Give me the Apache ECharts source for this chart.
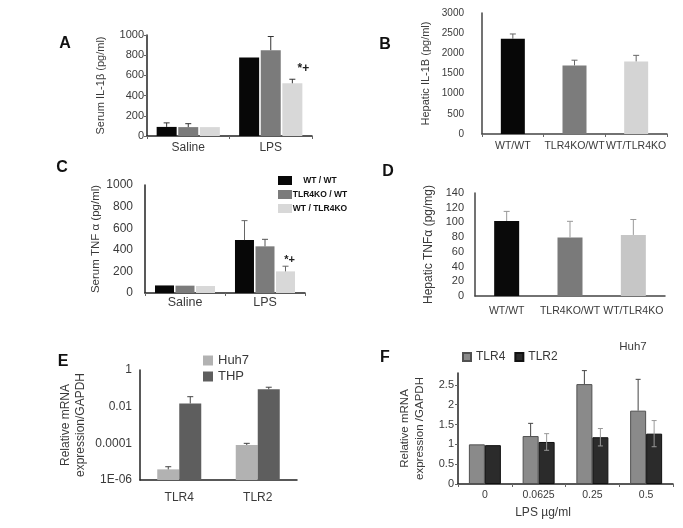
<!DOCTYPE html>
<html><head><meta charset="utf-8">
<script src="https://cdn.jsdelivr.net/npm/echarts/dist/echarts.min.js"></script>
<style>html,body{margin:0;padding:0;background:#fff}#c{width:683px;height:528px}</style>
</head><body><div id="c"></div>
<script>
// ---------- DATA ----------
// Panel A: Serum IL-1β (pg/ml)
const aCategories = ['Saline', 'LPS'];
const aWTWT = [90, 778];
const aWTWTErr = [130, 778];
const aKOWT = [88, 850];
const aKOWTErr = [122, 985];
const aWTKO = [88, 522];
const aWTKOErr = [92, 562];
const aNotes = ['', '*+'];
// Panel B: Hepatic IL-1B (pg/ml)
const bCategories = ['WT/WT', 'TLR4KO/WT', 'WT/TLR4KO'];
const bValues = [2360, 1700, 1800];
const bErr = [2480, 1830, 1950];
// Panel C: Serum TNF α (pg/ml)
const cCategories = ['Saline', 'LPS'];
const cWTWT = [70, 490];
const cWTWTErr = [70, 670];
const cKOWT = [68, 432];
const cKOWTErr = [68, 497];
const cWTKO = [65, 200];
const cWTKOErr = [65, 248];
const cNotes = ['', '*+'];
// Panel D: Hepatic TNFα (pg/mg)
const dCategories = ['WT/WT', 'TLR4KO/WT', 'WT/TLR4KO'];
const dValues = [102, 79.5, 83];
const dErr = [115, 101.5, 104];
// Panel E: Relative mRNA expression/GAPDH (log)
const eCategories = ['TLR4', 'TLR2'];
const eHuh7 = [3.8e-6, 8.1e-5];
const eHuh7Err = [5.3e-6, 1.0e-4];
const eTHP = [0.015, 0.089];
const eTHPErr = [0.035, 0.115];
const eTickLabels = ['1E-06', '0.0001', '0.01', '1'];
// Panel F: Huh7, Relative mRNA expression /GAPDH vs LPS µg/ml
const fCategories = ['0', '0.0625', '0.25', '0.5'];
const fTLR4 = [1.0, 1.21, 2.52, 1.85];
const fTLR4Err = [1.0, 1.53, 2.86, 2.64];
const fTLR2 = [0.98, 1.06, 1.18, 1.27];
const fTLR2ErrHi = [0.98, 1.27, 1.40, 1.60];
const fTLR2ErrLo = [0.98, 0.85, 0.96, 0.94];

// ---------- STYLE ----------
const FONT = '"Liberation Sans", Arial, sans-serif';
const TXT = '#3a3a3a';
const grids = [
  {left: 147, top: 35, width: 165, height: 101},  // A
  {left: 482, top: 13, width: 185, height: 121},  // B
  {left: 145, top: 185, width: 160, height: 108}, // C
  {left: 475, top: 193, width: 190, height: 103}, // D
  {left: 140, top: 370, width: 157, height: 110}, // E
  {left: 458, top: 373, width: 215, height: 111}  // F
].map(g => Object.assign({outerBoundsMode: 'none', containLabel: false}, g));

function xCat(gi, data, o) {
  return {
    type: 'category', gridIndex: gi, data: data,
    axisLine: {show: true, lineStyle: {color: o.lineColor || '#222', width: 1.5}},
    axisTick: {show: o.tick !== false, length: 3, lineStyle: {color: '#666'}},
    axisLabel: {color: TXT, fontFamily: FONT, fontSize: o.fs, margin: o.margin, interval: 0},
    splitLine: {show: false}
  };
}
function yVal(gi, o) {
  return Object.assign({
    type: 'value', gridIndex: gi, min: o.min, max: o.max, interval: o.interval,
    name: o.name, nameLocation: 'middle', nameRotate: 90, nameGap: o.nameGap,
    nameTextStyle: {color: TXT, fontFamily: FONT, fontSize: o.nameFs, lineHeight: o.lh || o.nameFs + 2},
    axisLine: {show: true, lineStyle: {color: o.lineColor || '#222', width: 1.5}},
    axisTick: {show: o.tick !== false, length: 3, lineStyle: {color: '#666'}},
    axisLabel: {color: TXT, fontFamily: FONT, fontSize: o.fs, margin: o.margin, showMaxLabel: o.showMax !== false,
      formatter: v => String(v)},
    splitLine: {show: false}
  }, o.extra || {});
}
function bar(gi, name, data, color, width, gap, extra) {
  return Object.assign({
    type: 'bar', name: name, xAxisIndex: gi, yAxisIndex: gi, data: data,
    barWidth: width, barGap: gap, itemStyle: {color: color}, silent: true
  }, extra || {});
}
function err(gi, values, his, los, offset, o) {
  const data = values.map((v, i) => [i, v, his[i], los ? los[i] : v]);
  return {
    type: 'custom', xAxisIndex: gi, yAxisIndex: gi, data: data, z: 5, silent: true,
    encode: {x: 0, y: [1, 2, 3]},
    renderItem: function (params, api) {
      const i = api.value(0);
      const top = api.coord([i, api.value(2)]);
      const bot = api.coord([i, api.value(3)]);
      const x = top[0] + offset;
      const st = {stroke: o.color, lineWidth: o.lw || 1};
      const cw = o.cap || 6;
      const ch = [];
      if (Math.abs(bot[1] - top[1]) > 0.5) {
        ch.push({type: 'line', shape: {x1: x, y1: bot[1], x2: x, y2: top[1]}, style: st});
        ch.push({type: 'line', shape: {x1: x - cw / 2, y1: top[1], x2: x + cw / 2, y2: top[1]}, style: st});
        if (los) ch.push({type: 'line', shape: {x1: x - cw / 2, y1: bot[1], x2: x + cw / 2, y2: bot[1]}, style: st});
      }
      if (o.notes && o.notes[params.dataIndex]) {
        ch.push({type: 'text', x: x + o.noteDx, y: top[1] + o.noteDy,
          style: {text: o.notes[params.dataIndex], fill: '#222', font: 'bold ' + o.noteFs + 'px ' + FONT,
            textAlign: 'center', textVerticalAlign: 'middle'}});
      }
      return {type: 'group', children: ch};
    }
  };
}
function letter(t, x, y) {
  return {type: 'text', x: x, y: y, style: {text: t, fill: '#111', font: 'bold 16px ' + FONT, textAlign: 'center', textVerticalAlign: 'middle'}};
}
function txt(t, x, y, fs) {
  return {type: 'text', x: x, y: y, style: {text: t, fill: TXT, font: fs + 'px ' + FONT, textAlign: 'center', textVerticalAlign: 'middle'}};
}

const blk = '#070707', gry = '#7b7b7b', lgt = '#d8d8d8';
const bColors = ['#070707', '#7c7c7c', '#d4d4d4'];
const dColors = ['#0a0a0a', '#7a7a7a', '#c6c6c6'];

const option = {
  animation: false,
  backgroundColor: '#fff',
  grid: grids,
  xAxis: [
    xCat(0, aCategories, {fs: 12, margin: 6}),
    xCat(1, bCategories, {fs: 10.5, margin: 7, lineColor: '#444'}),
    xCat(2, cCategories, {fs: 12.5, margin: 3}),
    xCat(3, dCategories, {fs: 10.5, margin: 10, tick: false, lineColor: '#444'}),
    xCat(4, eCategories, {fs: 12, margin: 12, tick: false}),
    xCat(5, fCategories, {fs: 10.5, margin: 6})
  ],
  yAxis: [
    yVal(0, {min: 0, max: 1000, interval: 200, name: 'Serum IL-1β (pg/ml)', nameGap: 40, nameFs: 11, fs: 11, margin: 3}),
    yVal(1, {min: 0, max: 3000, interval: 500, name: 'Hepatic IL-1B (pg/ml)', nameGap: 50, nameFs: 11, fs: 10, margin: 18, tick: false, lineColor: '#444'}),
    yVal(2, {min: 0, max: 1000, interval: 200, name: 'Serum TNF α (pg/ml)', nameGap: 42, nameFs: 11.5, fs: 12, margin: 12, tick: false}),
    yVal(3, {min: 0, max: 140, interval: 20, name: 'Hepatic TNFα (pg/mg)', nameGap: 39, nameFs: 12, fs: 11, margin: 11, tick: false, lineColor: '#444'}),
    yVal(4, {name: 'Relative mRNA\nexpression/GAPDH', nameGap: 52, nameFs: 12, lh: 15, fs: 12, margin: 8, tick: false,
      extra: {type: 'log', logBase: 10, min: 1e-6, max: 1, interval: 2, startValue: 1e-6,
        axisLabel: {color: TXT, fontFamily: FONT, fontSize: 12, margin: 8,
          formatter: v => eTickLabels[Math.round((Math.log10(v) + 6) / 2)]}}}),
    yVal(5, {min: 0, max: 2.8, interval: 0.5, name: 'Relative mRNA\nexpression /GAPDH', nameGap: 31, nameFs: 11.5, lh: 15, fs: 11, margin: 4, showMax: false})
  ],
  legend: [
    {data: ['WT / WT', 'TLR4KO / WT', 'WT / TLR4KO'], orient: 'vertical', left: 278, top: 176, padding: 0,
      itemWidth: 14, itemHeight: 9, itemGap: 5, icon: 'rect', selectedMode: false,
      formatter: '{t|{name}}',
      textStyle: {rich: {t: {width: 46, align: 'center', fontFamily: FONT, fontSize: 8.5, fontWeight: 'bold', color: '#111'}}}},
    {data: ['Huh7', 'THP'], orient: 'vertical', left: 203, top: 354, padding: 0, itemWidth: 10, itemHeight: 10, itemGap: 3,
      icon: 'rect', selectedMode: false, textStyle: {fontFamily: FONT, fontSize: 13, color: TXT}},
    {data: ['TLR4', 'TLR2'], orient: 'horizontal', left: 462, top: 351, padding: 0, itemWidth: 8, itemHeight: 8, itemGap: 9,
      icon: 'rect', selectedMode: false, textStyle: {fontFamily: FONT, fontSize: 12, color: TXT}}
  ],
  graphic: [
    letter('A', 65, 44), letter('B', 385, 45), letter('C', 62, 168),
    letter('D', 388, 172), letter('E', 63, 362), letter('F', 385, 358),
    txt('LPS µg/ml', 543, 513, 12), txt('Huh7', 633, 347, 11.5)
  ],
  series: [
    // A
    bar(0, 'WT / WT', aWTWT, blk, 20, '8%'),
    bar(0, 'TLR4KO / WT', aKOWT, gry, 20, '8%'),
    bar(0, 'WT / TLR4KO', aWTKO, lgt, 20, '8%'),
    err(0, aWTWT, aWTWTErr, null, -21.6, {color: '#333'}),
    err(0, aKOWT, aKOWTErr, null, 0, {color: '#333'}),
    err(0, aWTKO, aWTKOErr, null, 21.6, {color: '#333', notes: aNotes, noteDx: 11, noteDy: -11, noteFs: 12}),
    // B
    bar(1, 'B', bValues, null, 24, '0%', {itemStyle: {color: p => bColors[p.dataIndex]}}),
    err(1, bValues, bErr, null, 0, {color: '#666'}),
    // C
    bar(2, 'WT / WT', cWTWT, blk, 19, '8%'),
    bar(2, 'TLR4KO / WT', cKOWT, gry, 19, '8%'),
    bar(2, 'WT / TLR4KO', cWTKO, lgt, 19, '8%'),
    err(2, cWTWT, cWTWTErr, null, -20.5, {color: '#666'}),
    err(2, cKOWT, cKOWTErr, null, 0, {color: '#555'}),
    err(2, cWTKO, cWTKOErr, null, 20.5, {color: '#666', notes: cNotes, noteDx: 4, noteDy: -6, noteFs: 11}),
    // D
    bar(3, 'D', dValues, null, 25, '0%', {itemStyle: {color: p => dColors[p.dataIndex]}}),
    err(3, dValues, dErr, null, 0, {color: '#999'}),
    // E
    bar(4, 'Huh7', eHuh7, '#b2b2b2', 22, '0%'),
    bar(4, 'THP', eTHP, '#5e5e5e', 22, '0%'),
    err(4, eHuh7, eHuh7Err, null, -11, {color: '#444'}),
    err(4, eTHP, eTHPErr, null, 11, {color: '#444'}),
    // F
    bar(5, 'TLR4', fTLR4, '#8a8a8a', 16, '0%', {itemStyle: {color: '#8a8a8a', borderColor: '#505050', borderWidth: 1}}),
    bar(5, 'TLR2', fTLR2, '#2b2b2b', 16, '0%', {itemStyle: {color: '#2b2b2b', borderColor: '#111', borderWidth: 1}}),
    err(5, fTLR4, fTLR4Err, null, -8, {color: '#444', cap: 5}),
    err(5, fTLR2, fTLR2ErrHi, fTLR2ErrLo, 8, {color: '#999', cap: 5})
  ]
};
const chart = echarts.init(document.getElementById('c'), null, {renderer: 'canvas'});
chart.setOption(option);
</script>
</body></html>
